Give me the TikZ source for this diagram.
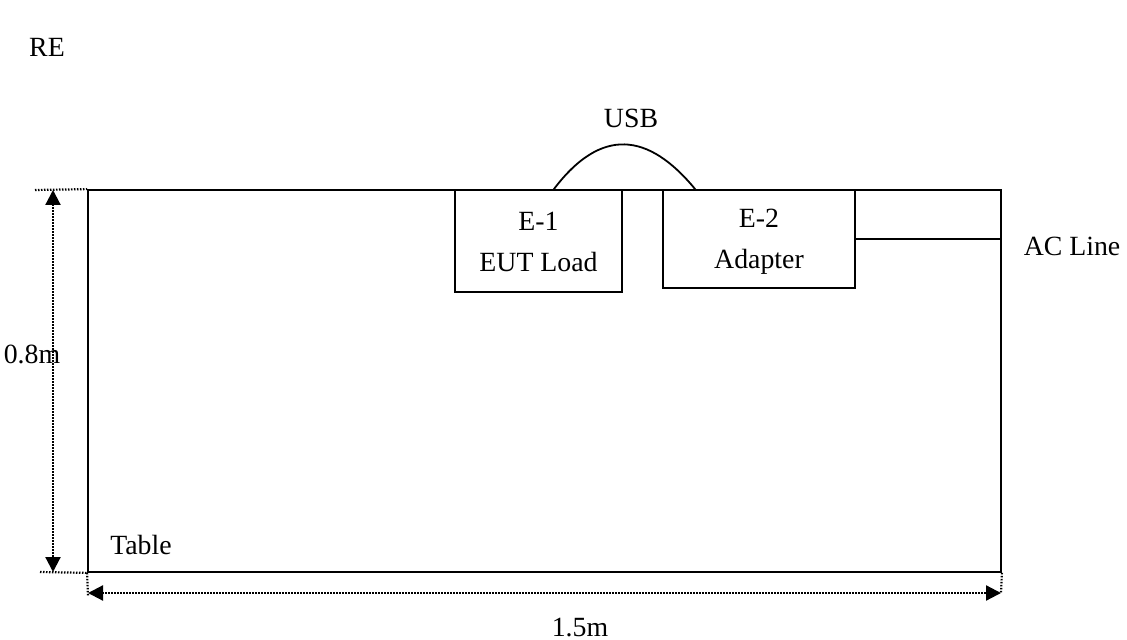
\documentclass[tikz,border=0pt]{standalone}
\usepackage{fontspec}
\setmainfont{Liberation Serif}
\usetikzlibrary{arrows.meta,calc}
\begin{document}
\begin{tikzpicture}[x=0.5pt,y=-0.5pt,
  lbl/.style={inner sep=0pt,font=\fontsize{13.9}{16}\selectfont},
  box/.style={draw,line width=0.9pt,inner sep=0pt},
  intext/.style={inner sep=0pt,align=center,font=\fontsize{13.9}{20.5}\selectfont},
  wire/.style={line width=0.9pt},
  dimline/.style={line width=1.1pt,dash pattern=on 0.75pt off 0.75pt},
  dimarrow/.style={dimline,{Triangle[length=7.5pt,width=7.5pt]}-{Triangle[length=7.5pt,width=7.5pt]}}]
\useasboundingbox (0,0) rectangle (1127,640);
% table
\node[box,minimum width=456.5pt,minimum height=191pt] (table) at (544.5,381) {};
% equipment
\node[box,minimum width=83.5pt,minimum height=51pt] (e1) at (538.5,241) {};
\node[intext] (e1t) at (538.5,241.5) {E-1\\EUT Load};
\node[box,minimum width=96pt,minimum height=49pt] (e2) at (759,239) {};
\node[intext] (e2t) at (759,241.5) {E-2\\Adapter};
% USB cable
\coordinate (u1) at ([xshift=-34.5pt]e1.north east);
\coordinate (u2) at ([xshift=16.5pt]e2.north west);
\draw[wire] (u1) .. controls (601,127) and (648,132) .. (u2);
% AC line
\draw[wire] (e2.east) -- (e2.east -| table.east);
% labels
\node[lbl] (re) at (47,47) {RE};
\node[lbl] (usb) at (631,118) {USB};
\node[lbl] (ac) at (1072,246) {AC Line};
\node[lbl] (tbl) at (141,545) {Table};
\node[lbl] (h) at (32,354) {0.8m};
\node[lbl] (w) at (580,628) {1.5m};
% dimensions
\coordinate (vt) at (53,190);
\coordinate (vb) at (53,572);
\coordinate (ht) at (35,190);
\coordinate (hb) at (40,572);
\draw[dimline] (ht) -- (table.north west);
\draw[dimline] (hb) -- (table.south west);
\draw[dimarrow] (vt) -- (vb);
\coordinate (dl) at (88,593);
\coordinate (dr) at (1001,593);
\draw[dimline] (table.south west) -- ([yshift=-1.5pt]dl);
\draw[dimline] (table.south east) -- (dr);
\draw[dimarrow] (dl) -- (dr);
\end{tikzpicture}
\end{document}
